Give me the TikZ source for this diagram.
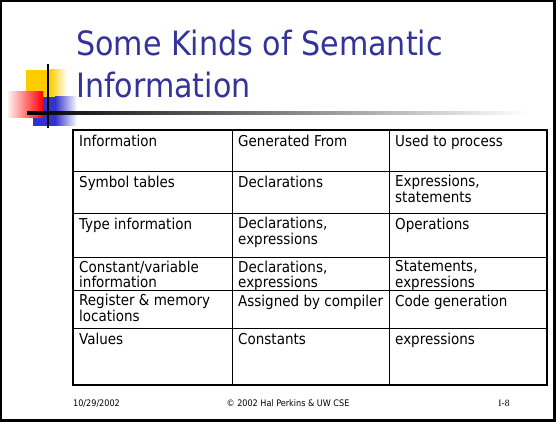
\documentclass[tikz,border=0pt]{standalone}
\usepackage{fontspec}
\setmainfont{DejaVu Sans Condensed}
\newfontfamily\pageserif{Liberation Serif}
\definecolor{titleblue}{RGB}{51,51,153}
\definecolor{decoyellow}{RGB}{255,204,0}
\definecolor{decored}{RGB}{255,0,0}
\definecolor{decoblue}{RGB}{51,51,204}

\begin{document}
\begin{tikzpicture}[x=1pt,y=-1pt,
  cell/.style={anchor=north west,inner sep=0pt,align=left,
    font=\fontsize{15}{15.5}\selectfont,execute at begin node={\rule{0pt}{12pt}}},
  foot/.style={anchor=base,inner sep=0pt,font=\fontsize{9}{10}\selectfont}]
\useasboundingbox (0,0) rectangle (556,422);
\draw[line width=2.2pt] (1.1,1.1) rectangle (554.5,420.5);

% corner squares and rules
\fill[decoyellow] (26,70) rectangle (50,97);
\shade[left color=decoyellow,right color=white] (50,70) rectangle (67,97);
\fill[decoblue] (33,97) rectangle (55,126);
\shade[left color=decoblue,right color=white] (55,97) rectangle (77,126);
\shade[left color=decored!6,right color=decored] (8,92) rectangle (43,118);
\shade[left color=black,right color=white] (27,111.8) rectangle (527,114.5);
\fill[black] (27,111.8) rectangle (45,114.5);
\draw[line width=2pt] (48,64) -- (48,128);

\node[anchor=north west,inner sep=0pt,align=left,text=titleblue,
  font=\fontsize{33.5}{42}\selectfont] (title) at (76,25.6)
  {\strut Some Kinds of Semantic\\Information};

% table
\draw[line width=1.4pt] (73,130) rectangle (547,385);
\draw[line width=0.8pt] (232,130) -- (232,385);
\draw[line width=0.8pt] (389,130) -- (389,385);
\draw[line width=0.8pt] (73,171) -- (547,171);
\draw[line width=0.8pt] (73,213) -- (547,213);
\draw[line width=0.8pt] (73,257) -- (547,257);
\draw[line width=0.8pt] (73,290) -- (547,290);
\draw[line width=0.8pt] (73,328) -- (547,328);

\node[cell] (hinfo) at (79,134) {Information};
\node[cell] (hgen) at (238,134) {Generated From};
\node[cell] (huse) at (395,134) {Used to process};

\node[cell] (symbol) at (79,175) {Symbol tables};
\node[cell] (symgen) at (238,175) {Declarations};
\node[cell] (symuse) at (395,175) {Expressions,\\statements};

\node[cell] (type) at (79,217) {Type information};
\node[cell] (typegen) at (238,217) {Declarations,\\expressions};
\node[cell] (typeuse) at (395,217) {Operations};

\node[cell] (const) at (79,260.5) {Constant/variable\\information};
\node[cell] (constgen) at (238,260.5) {Declarations,\\expressions};
\node[cell] (constuse) at (395,260.5) {Statements,\\expressions};

\node[cell] (reg) at (79,294) {Register \& memory\\locations};
\node[cell] (reggen) at (238,294) {Assigned by compiler};
\node[cell] (reguse) at (395,294) {Code generation};

\node[cell] (val) at (79,332) {Values};
\node[cell] (valgen) at (238,332) {Constants};
\node[cell] (valuse) at (395,332) {expressions};

% footer
\node[foot,anchor=base west] (date) at (73,406) {10/29/2002};
\node[foot] (copy) at (288,406) {© 2002 Hal Perkins \& UW CSE};
\node[foot,font=\pageserif\fontsize{9.5}{10}\selectfont] (page) at (504,406) {I-8};
\end{tikzpicture}
\end{document}
